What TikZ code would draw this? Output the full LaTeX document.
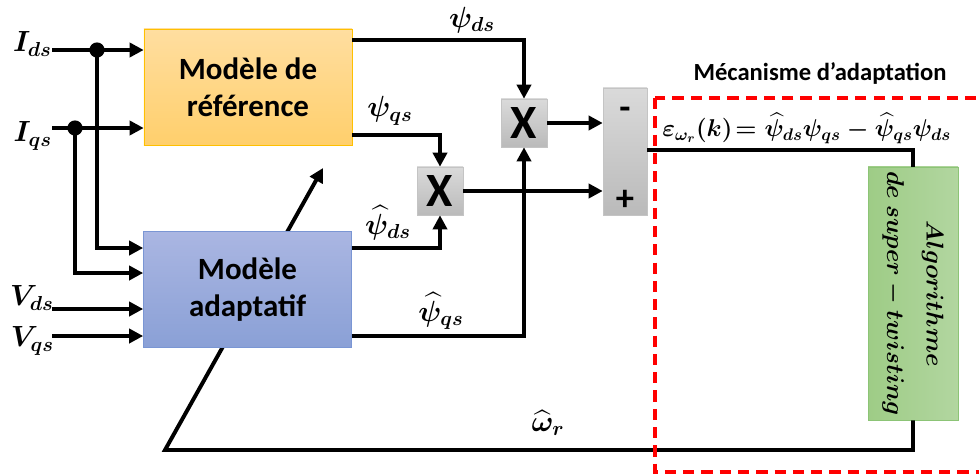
\documentclass[tikz,border=0pt]{standalone}
\usepackage{fontspec}
\setmainfont{Carlito}
\usepackage{amsmath}
\usepackage{graphicx}
\usetikzlibrary{arrows.meta}
\definecolor{reftop}{RGB}{255,222,160}
\definecolor{refbot}{RGB}{255,207,108}
\definecolor{refedge}{RGB}{255,192,0}
\definecolor{adatop}{RGB}{170,182,226}
\definecolor{adabot}{RGB}{138,160,214}
\definecolor{adaedge}{RGB}{122,150,212}
\definecolor{gtop}{RGB}{218,218,218}
\definecolor{gbot}{RGB}{186,186,186}
\definecolor{gedge}{RGB}{196,196,196}
\definecolor{algleft}{RGB}{158,204,134}
\definecolor{algright}{RGB}{178,214,160}
\definecolor{algedge}{RGB}{140,196,118}

\begin{document}
\begin{tikzpicture}[x=0.025cm, y=-0.025cm,
  block/.style={
    minimum width=5.2cm, minimum height=2.9cm,
    align=center, font=\fontsize{22}{26}\selectfont\bfseries
  },
  refblock/.style={block, draw=refedge, top color=reftop, bottom color=refbot},
  adablock/.style={block, draw=adaedge, top color=adatop, bottom color=adabot},
  mult/.style={draw=gedge, top color=gtop, bottom color=gbot,
               minimum width=1.15cm, minimum height=1.2cm, inner sep=0pt,
               font=\fontsize{34}{34}\selectfont\bfseries},
  summer/.style={draw=gedge, top color=gtop, bottom color=gbot,
                 minimum width=1.1cm, minimum height=3.175cm},
  sgn/.style={font=\fontsize{26}{26}\selectfont\bfseries, inner sep=0pt},
  algo/.style={draw=algedge, left color=algleft, right color=algright,
               minimum width=2.25cm, minimum height=6.325cm, inner sep=0pt,
               font=\fontsize{19}{22}\selectfont},
  sig/.style={line width=2.8pt, -{Triangle[length=10pt, width=10pt]}},
  wire/.style={line width=2.8pt},
  lbl/.style={font=\fontsize{21}{24}\selectfont\boldmath, inner sep=0pt},
  redbox/.style={draw=red, line width=2.2pt, dash pattern=on 8pt off 5pt}
]
  \useasboundingbox (0,0) rectangle (979,474);

  % --- Nodes ---
  \node[summer] (sum) at (625,151.5) {};
  \node[sgn] (minus) at (625,113) {-};
  \node[sgn] (plus) at (625,200) {+};

  \node[algo] (alg) at (913,293.5) {\rotatebox{-90}{\boldmath
    \begin{tabular}{@{}c@{}}$Algorithme$\\[6pt]$de\ super-twisting$\end{tabular}}};

  \node[mult] (m1) at (524,123) {X};
  \node[mult] (m2) at (440,191) {X};

  % feedback goes behind the adaptive block
  \coordinate (fb) at (165,450);
  \coordinate (tip) at (323,168);
  \draw[sig] (alg.south) |- (fb) -- (tip);

  \node[refblock] (ref) at (248,87) {Modèle de\\référence};
  \node[adablock] (ada) at (247.5,289.5) {Modèle\\adaptatif};

  % --- Inputs ---
  \coordinate (ids) at (52,50);
  \coordinate (iqs) at (52,128);
  \coordinate (vds) at (52,309);
  \coordinate (vqs) at (52,336);
  \coordinate (dot1) at (97,50);
  \coordinate (dot2) at (75,128);

  \node[lbl, anchor=east] (Lids) at (52,44) {$I_{ds}$};
  \node[lbl, anchor=east] (Liqs) at (52,136) {$I_{qs}$};
  \node[lbl, anchor=east] (Lvds) at (54,298) {$V_{ds}$};
  \node[lbl, anchor=east] (Lvqs) at (54,341) {$V_{qs}$};

  \draw[sig] (ids) -- (ref.west |- ids);
  \draw[sig] (iqs) -- (ref.west |- iqs);
  \draw[sig] (dot1) |- (ada.west |- 0,248);
  \draw[sig] (dot2) |- (ada.west |- 0,273);
  \draw[sig] (vds) -- (ada.west |- vds);
  \draw[sig] (vqs) -- (ada.west |- vqs);
  \fill (dot1) circle (0.19cm);
  \fill (dot2) circle (0.19cm);

  % --- Fluxes ---
  \draw[sig] (ref.east |- 0,40) -| (m1.north);
  \draw[sig] (ref.east |- 0,135) -| (m2.north);
  \draw[sig] (ada.east |- 0,248) -| (m2.south);
  \draw[sig] (ada.east |- 0,336) -| (m1.south);
  \node[lbl] (Lpds) at (472,20) {$\psi_{ds}$};
  \node[lbl] (Lpqs) at (390,111) {$\psi_{qs}$};
  \node[lbl] (Lhds) at (388,223) {$\widehat{\psi}_{ds}$};
  \node[lbl] (Lhqs) at (441,311) {$\widehat{\psi}_{qs}$};

  % --- Error ---
  \draw[sig] (m1.east) -- (sum.west |- m1.east);
  \draw[sig] (m2.east) -- (sum.west |- m2.east);
  \draw[wire] (sum.east |- 0,150) -| (alg.north);
  \node[lbl] (Lwr) at (548,423) {$\widehat{\omega}_r$};

  % --- Adaptation mechanism ---
  \draw[redbox] (655,98) rectangle (990,472);
  \node[font=\fontsize{17.5}{20}\selectfont\bfseries] (mech) at (820,73) {Mécanisme d’adaptation};
  \node[lbl, font=\fontsize{18}{21}\selectfont\boldmath, anchor=west] (eps) at (662,128)
    {$\varepsilon_{\omega_r}(k)\!=\widehat{\psi}_{ds}\psi_{qs}-\widehat{\psi}_{qs}\psi_{ds}$};
\end{tikzpicture}
\end{document}
